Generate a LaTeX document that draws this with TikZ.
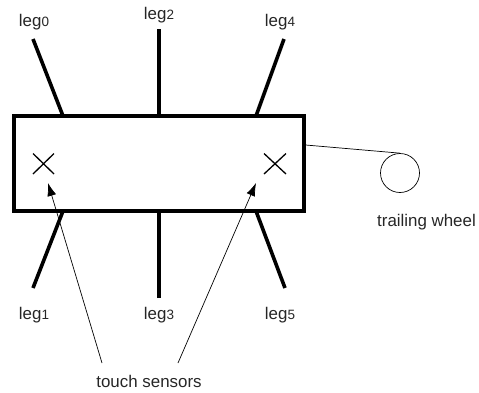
\documentclass[tikz,border=0pt]{standalone}
\usepackage{fontspec}
\usetikzlibrary{arrows.meta}
\setmainfont{Liberation Sans}
\tikzset{
 leg/.style={line width=3.6pt},
 straightleg/.style={line width=3.6pt},
 body/.style={draw,line width=3.4pt,minimum width=290pt,minimum height=95pt,inner sep=0pt},
 thin line/.style={line width=0.7pt},
 lab/.style={inner sep=0pt,anchor=base,font=\fontsize{16.9}{19}\selectfont,color=black!85}
}
\newcommand{\legsub}[1]{{\fontsize{13.5}{15}\selectfont #1}}
\begin{document}
\begin{tikzpicture}[x=1pt,y=-1pt]
\useasboundingbox (0,0) rectangle (479,392);
\node[body] (b) at (159,163.5) {};
\coordinate (t0) at (33,39); \coordinate (a0) at (63,116);
\coordinate (t2) at (159,29); \coordinate (a2) at (159,116);
\coordinate (t4) at (284,39); \coordinate (a4) at (256,116);
\coordinate (t1) at (33,288); \coordinate (a1) at (63,211);
\coordinate (t3) at (159,298); \coordinate (a3) at (159,211);
\coordinate (t5) at (285,288); \coordinate (a5) at (256,211);
\foreach \n in {0,1,4,5} \draw[leg] (t\n) -- (a\n);
\foreach \n in {2,3} \draw[straightleg] (t\n) -- (a\n);
\node[lab] (l0) at (34,26) {leg\legsub{0}};
\node[lab] (l2) at (159,19) {leg\legsub{2}};
\node[lab] (l4) at (280,26) {leg\legsub{4}};
\node[lab] (l1) at (34,319) {leg\legsub{1}};
\node[lab] (l3) at (159,319) {leg\legsub{3}};
\node[lab] (l5) at (280,319) {leg\legsub{5}};
\draw[line width=1.3pt] (33,153.5)--(54,174) (33,174)--(54,153.5);
\draw[line width=1.3pt] (264,153.5)--(286,174) (264,174)--(286,153.5);
\node[circle,draw,line width=0.7pt,minimum size=39pt,inner sep=0pt] (w) at (400,173) {};
\draw[thin line] (b.east |- 0,145) -- (w.north);
\node[lab] (tw) at (426.5,226) {trailing wheel};
\node[lab] (ts) at (149,387) {touch sensors};
\coordinate (s1) at (102,363); \coordinate (s2) at (178,363);
\coordinate (x1) at (48,183); \coordinate (x2) at (256,183);
\draw[thin line,-{Latex[length=13pt,width=9pt]}] (s1) -- (x1);
\draw[thin line,-{Latex[length=13pt,width=9pt]}] (s2) -- (x2);
\end{tikzpicture}
\end{document}
